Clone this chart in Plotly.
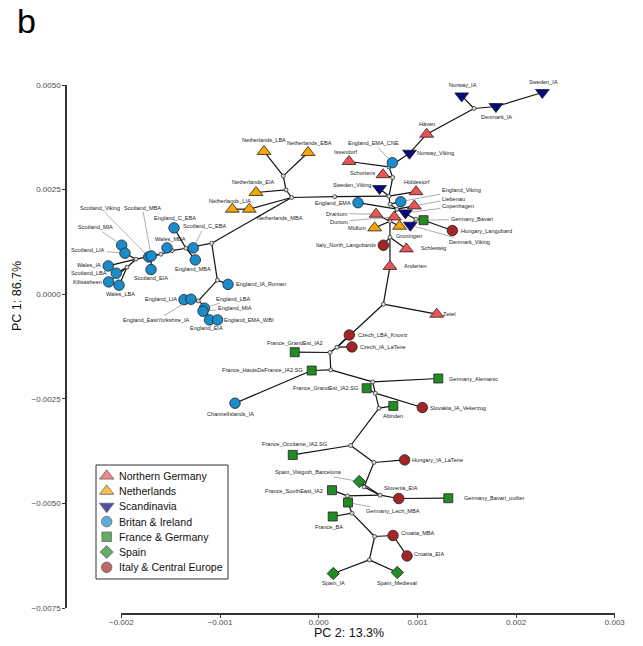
import plotly.graph_objects as go

# ---------------- data ----------------
group_names = ["Northern Germany", "Netherlands", "Scandinavia", "Britan & Ireland",
               "France & Germany", "Spain", "Italy & Central Europe"]

ng_names = ["Häven", "Issendorf", "Schortens", "Hiddestorf", "Liebenau", "Drantum", "Dunum",
            "Schleswig", "Anderten", "Zetel"]
ng_pc2 = [0.001094, 0.000307, 0.000651, 0.000986, 0.000969, 0.000581, 0.000766, 0.000888, 0.000722, 0.001196]
ng_pc1 = [0.003824, 0.003172, 0.002856, 0.002450, 0.002110, 0.001912, 0.001847, 0.001083, 0.000664, -0.000478]

nl_names = ["Netherlands_LBA", "Netherlands_EBA", "Netherlands_EIA", "Netherlands_LIA", "Netherlands_MBA",
            "Midlum", "Groningen"]
nl_pc2 = [-0.000554, -0.000108, -0.000635, -0.000875, -0.000703, 0.000567, 0.000819]
nl_pc1 = [0.003411, 0.003387, 0.002431, 0.002032, 0.002032, 0.001585, 0.001625]

sc_names = ["Norway_IA", "Sweden_IA", "Denmark_IA", "Norway_Viking", "Sweden_Viking", "Copenhagen",
            "Denmark_Viking"]
sc_pc2 = [0.001449, 0.002266, 0.001796, 0.000920, 0.000616, 0.000879, 0.000928]
sc_pc1 = [0.004739, 0.004821, 0.004486, 0.003370, 0.002526, 0.001943, 0.001649]

bi_names = ["England_EMA_CNE", "England_EMA", "England_Viking", "England_C_EBA", "Wales_MBA",
            "Scotland_C_EBA", "England_MBA", "Scotland_Viking", "Scotland_MBA", "Scotland_EIA",
            "Scotland_MIA", "Scotland_LIA", "Wales_IA", "Scotland_LBA", "Kiltsasheen", "Wales_LBA",
            "England_IA_Roman", "England_LIA", "England_EastYorkshire_IA", "England_LBA", "England_MIA",
            "England_EIA", "England_EMA_WBI", "ChannelIslands_IA"]
bi_pc2 = [0.000746, 0.000398, 0.000831, -0.001466, -0.001537, -0.001271, -0.001250, -0.001722, -0.001696,
          -0.001699, -0.001996, -0.001963, -0.002132, -0.002051, -0.002128, -0.002023, -0.000919, -0.001365,
          -0.001294, -0.001157, -0.001172, -0.001106, -0.001025, -0.000848]
bi_pc1 = [0.003143, 0.002187, 0.002211, 0.001585, 0.001107, 0.001107, 0.000820, 0.000891, 0.000915,
          0.000590, 0.001171, 0.000980, 0.000676, 0.000502, 0.000294, 0.000215, 0.000234, -0.000131,
          -0.000120, -0.000335, -0.000406, -0.000614, -0.000614, -0.002605]

fg_names = ["Germany_Bavari", "France_GrandEst_IA2", "France_HautsDeFrance_IA2.SG", "Germany_Alemanic",
            "France_GrandEst_IA2.SG", "Altinden", "France_Occitanie_IA2.SG", "France_SouthEast_IA2",
            "Germany_Lech_MBA", "Germany_Bavari_outlier", "France_BA"]
fg_pc2 = [0.001062, -0.000243, -0.000071, 0.001212, 0.000486, 0.000756, -0.000263, 0.000135, 0.000297,
          0.001313, 0.000142]
fg_pc1 = [0.001769, -0.001386, -0.001824, -0.002015, -0.002247, -0.002670, -0.003841, -0.004684, -0.004978,
          -0.004876, -0.005313]

sp_names = ["Spain_Visigoth_Barcelona", "Spain_IA", "Spain_Medieval"]
sp_pc2 = [0.000411, 0.000148, 0.000796]
sp_pc1 = [-0.004476, -0.006675, -0.006651]

ic_names = ["Italy_North_Langobards", "Hungary_Langobard", "Czech_LBA_Knoviz", "Czech_IA_LaTene",
            "Slovakia_IA_Vekerzug", "Hungary_IA_LaTene", "Slovenia_EIA", "Croatia_MBA", "Croatia_EIA"]
ic_pc2 = [0.000655, 0.001354, 0.000310, 0.000337, 0.001050, 0.000871, 0.000811, 0.000753, 0.000895]
ic_pc1 = [0.001171, 0.001522, -0.000975, -0.001260, -0.002708, -0.003960, -0.004883, -0.005767, -0.006255]

# internal tree nodes
node_names = ["T1", "T2", "T3", "C", "L1", "NL", "NL2", "NL3", "A", "B", "E1", "E2", "S1", "S2", "S3",
              "S4", "S5", "D1", "D2", "D3", "D4", "D5", "Zn", "K", "G", "F1", "F2", "F3", "F4", "O", "H",
              "V", "Sn", "Ln", "Bn", "Cr", "Sp"]
node_pc2 = [0.001574, 0.000712, 0.000750, 0.000712, 0.000162, -0.000274, -0.000331, -0.000359, -0.001084,
            -0.001027, -0.001220, -0.001152, -0.001345, -0.001486, -0.001598, -0.001851, -0.001942, 0.000722,
            0.000793, 0.000986, 0.000722, 0.000722, 0.000655, 0.000185, 0.000114, 0.000122, 0.000547,
            0.000573, 0.000611, 0.000324, 0.000560, 0.000459, 0.000621, 0.000290, 0.000337, 0.000567,
            0.000513]
node_pc1 = [0.004438, 0.003042, 0.002789, 0.002342, 0.002330, 0.002311, 0.002493, 0.002827, 0.001219,
            0.000335, -0.000160, -0.000287, 0.001099, 0.001040, 0.000956, 0.000837, 0.000645, 0.002151,
            0.002032, 0.001793, 0.001745, 0.001362, -0.000239, -0.001267, -0.001393, -0.001809, -0.002096,
            -0.002366, -0.002725, -0.003616, -0.004022, -0.004606, -0.004804, -0.004821, -0.005234,
            -0.005791, -0.006350]

edges = [
    ("Sweden_IA", "Denmark_IA"), ("Denmark_IA", "T1"), ("T1", "Norway_IA"), ("T1", "Häven"),
    ("Häven", "Norway_Viking"), ("Norway_Viking", "T2"), ("T2", "England_EMA_CNE"), ("T2", "Issendorf"),
    ("T2", "T3"), ("T3", "Schortens"), ("T3", "C"), ("C", "Hiddestorf"), ("C", "Sweden_Viking"),
    ("C", "L1"), ("L1", "NL"), ("NL", "NL2"), ("NL2", "NL3"), ("NL3", "Netherlands_LBA"),
    ("NL3", "Netherlands_EBA"), ("NL2", "Netherlands_EIA"), ("NL", "Netherlands_MBA"),
    ("Netherlands_MBA", "Netherlands_LIA"), ("NL", "A"),
    ("England_EMA", "D2"), ("C", "D1"), ("D1", "England_Viking"), ("D1", "D2"), ("D2", "Liebenau"),
    ("D2", "Copenhagen"), ("D2", "D3"), ("D3", "Germany_Bavari"), ("Germany_Bavari", "Hungary_Langobard"),
    ("D3", "Denmark_Viking"), ("D2", "D4"), ("D4", "Drantum"), ("D4", "Dunum"), ("D4", "Midlum"),
    ("D4", "Groningen"), ("D4", "D5"), ("D5", "Italy_North_Langobards"), ("D5", "Schleswig"),
    ("D5", "Anderten"), ("Anderten", "Zn"), ("Zn", "Zetel"), ("Zn", "K"), ("K", "Czech_LBA_Knoviz"),
    ("K", "Czech_IA_LaTene"), ("K", "G"), ("G", "France_GrandEst_IA2"), ("G", "F1"),
    ("F1", "France_HautsDeFrance_IA2.SG"), ("France_HautsDeFrance_IA2.SG", "ChannelIslands_IA"),
    ("F1", "F2"), ("F2", "Germany_Alemanic"), ("F2", "F3"), ("F3", "France_GrandEst_IA2.SG"),
    ("F3", "Slovakia_IA_Vekerzug"), ("F3", "F4"), ("F4", "Altinden"), ("F4", "O"),
    ("O", "France_Occitanie_IA2.SG"), ("O", "H"), ("H", "Hungary_IA_LaTene"), ("H", "V"),
    ("V", "Spain_Visigoth_Barcelona"), ("V", "Sn"), ("Spain_Visigoth_Barcelona", "Sn"),
    ("Sn", "Slovenia_EIA"), ("Slovenia_EIA", "Germany_Bavari_outlier"), ("Sn", "Ln"),
    ("Ln", "France_SouthEast_IA2"), ("Ln", "Germany_Lech_MBA"), ("Germany_Lech_MBA", "Bn"),
    ("Bn", "France_BA"), ("Bn", "Cr"), ("Cr", "Croatia_MBA"), ("Croatia_MBA", "Croatia_EIA"),
    ("Cr", "Sp"), ("Sp", "Spain_IA"), ("Sp", "Spain_Medieval"),
    ("A", "S1"), ("S1", "Scotland_C_EBA"), ("S1", "England_C_EBA"), ("S1", "England_MBA"), ("S1", "S2"),
    ("S2", "Wales_MBA"), ("S2", "S3"), ("S3", "Scotland_MBA"), ("Scotland_MBA", "Scotland_Viking"),
    ("Scotland_MBA", "Scotland_EIA"), ("S3", "S4"), ("S4", "Scotland_LIA"), ("Scotland_LIA", "Scotland_MIA"),
    ("S4", "Wales_IA"), ("S4", "S5"), ("S5", "Scotland_LBA"), ("S5", "Kiltsasheen"), ("S5", "Wales_LBA"),
    ("A", "B"), ("B", "England_IA_Roman"), ("B", "E1"), ("E1", "England_LIA"),
    ("E1", "England_EastYorkshire_IA"), ("E1", "E2"), ("E2", "England_LBA"), ("E2", "England_MIA"),
    ("E2", "England_EIA"), ("England_EIA", "England_EMA_WBI"),
]

y_ticks = [-0.0075, -0.005, -0.0025, 0.0, 0.0025, 0.005]
y_ticktext = ["\u22120.0075", "\u22120.0050", "\u22120.0025", "0.0000", "0.0025", "0.0050"]
x_ticks = [-0.002, -0.001, 0.0, 0.001, 0.002, 0.003]
x_ticktext = ["\u22120.002", "\u22120.001", "0.000", "0.001", "0.002", "0.003"]

# ---------------- styling / layout ----------------
group_data = [(ng_names, ng_pc2, ng_pc1), (nl_names, nl_pc2, nl_pc1), (sc_names, sc_pc2, sc_pc1),
              (bi_names, bi_pc2, bi_pc1), (fg_names, fg_pc2, fg_pc1), (sp_names, sp_pc2, sp_pc1),
              (ic_names, ic_pc2, ic_pc1)]
g_colors = ["#EC5454", "#F7A600", "#07077F", "#1A8BCB", "#238B23", "#238B23", "#A32626"]
g_symbols = ["triangle-up", "triangle-up", "triangle-down", "circle", "square", "diamond", "circle"]
g_sizes = [12, 12, 12, 10.5, 9, 9.5, 10.5]
leg_sizes = [12.5, 12.5, 12.5, 10.5, 9.5, 10, 10.5]

# label offsets in pixels (dx, dy, leader segment)
lab = {
    "Häven": (0, -10, 0), "Issendorf": (-4, -9.5, 0), "Schortens": (-20, -1.5, 0), "Hiddestorf": (1, -9.5, 0),
    "Liebenau": (39, -7.4, 1), "Drantum": (-39.3, -0.7, 1), "Dunum": (-55.3, 4.6, 1), "Schleswig": (27, -1, 0),
    "Anderten": (26, 0, 0), "Zetel": (12.5, -0.7, 0),
    "Netherlands_LBA": (0, -11.5, 0), "Netherlands_EBA": (1, -9.5, 0), "Netherlands_EIA": (-3, -10.5, 0),
    "Netherlands_LIA": (-2, -8.5, 0), "Netherlands_MBA": (31, 9, 0), "Midlum": (-18, 0, 0),
    "Groningen": (9, 9.5, 0),
    "Norway_IA": (1, -10.5, 0), "Sweden_IA": (1, -10, 0), "Denmark_IA": (0.7, 10.4, 0),
    "Norway_Viking": (26, 0, 0), "Sweden_Viking": (-28, -4, 0), "Copenhagen": (52.5, -6.7, 1),
    "Denmark_Viking": (59.7, 16.7, 1),
    "England_EMA_CNE": (-19, -20, 1), "England_EMA": (-25, 0, 0), "England_Viking": (60.5, -11.5, 1),
    "England_C_EBA": (1, -9.8, 0), "Wales_MBA": (3.7, -8.5, 0), "Scotland_C_EBA": (11, -21.4, 1),
    "England_MBA": (-2.6, 9, 0), "Scotland_Viking": (-48.7, -49.4, 1), "Scotland_MBA": (-9, -48.4, 1),
    "Scotland_EIA": (0, 8.5, 0), "Scotland_MIA": (-26, -18, 1), "Scotland_LIA": (-36.7, -3, 1),
    "Wales_IA": (-19, -1.4, 0), "Scotland_LBA": (-27.5, 0, 0), "Kiltsasheen": (-21, 0, 0),
    "Wales_LBA": (1, 9, 0), "England_IA_Roman": (33, 0, 0), "England_LIA": (-23, -0.5, 0),
    "England_EastYorkshire_IA": (-34.3, 21, 1), "England_LBA": (28.8, -9.7, 1), "England_MIA": (32, -2.7, 1),
    "England_EIA": (-2.8, 8.5, 0), "England_EMA_WBI": (31.5, 0, 0), "ChannelIslands_IA": (-4.3, 10.5, 0),
    "Germany_Bavari": (48, -1, 1), "France_GrandEst_IA2": (0, -9.5, 0),
    "France_HautsDeFrance_IA2.SG": (-49, -0.6, 0), "Germany_Alemanic": (35, 0, 0),
    "France_GrandEst_IA2.SG": (-41, -0.7, 0), "Altinden": (0, 9.6, 0),
    "France_Occitanie_IA2.SG": (1.6, -10.6, 0), "France_SouthEast_IA2": (-38, 0.7, 0),
    "Germany_Lech_MBA": (45.3, 9, 1), "Germany_Bavari_outlier": (46, 0, 0), "France_BA": (-4, 10.6, 0),
    "Spain_Visigoth_Barcelona": (-51.6, -9, 1), "Spain_IA": (0, 10, 0), "Spain_Medieval": (0, 10.7, 0),
    "Italy_North_Langobards": (-37.5, -0.3, 0), "Hungary_Langobard": (34.5, 0, 0),
    "Czech_LBA_Knoviz": (33.2, 0, 0), "Czech_IA_LaTene": (31.5, 0, 0), "Slovakia_IA_Vekerzug": (35.8, 0, 0),
    "Hungary_IA_LaTene": (33.3, 0.6, 0), "Slovenia_EIA": (2, -10.3, 0), "Croatia_MBA": (24.5, -2.3, 0),
    "Croatia_EIA": (21.7, -1.7, 0),
}

FONT = "Liberation Sans, Arial, Helvetica, sans-serif"
W, H = 643, 646
ML, MR, MT, MB = 66, 13, 85, 32
PW, PH = W - ML - MR, H - MT - MB


def paper_x(px):
    return (px - ML) / PW


def paper_y(py):
    return (H - MB - py) / PH


pos = {}
for names, xs, ys in group_data:
    for n, x, y in zip(names, xs, ys):
        pos[n] = (x, y)
for n, x, y in zip(node_names, node_pc2, node_pc1):
    pos[n] = (x, y)

fig = go.Figure()

ex, ey = [], []
for a, b in edges:
    ex += [pos[a][0], pos[b][0], None]
    ey += [pos[a][1], pos[b][1], None]
fig.add_trace(go.Scatter(x=ex, y=ey, mode="lines", line=dict(color="#111111", width=1.2),
                         hoverinfo="skip", showlegend=False))
fig.add_trace(go.Scatter(x=node_pc2, y=node_pc1, mode="markers", cliponaxis=False,
                         marker=dict(size=4, color="#d9d9d9", line=dict(color="#333333", width=0.8)),
                         hoverinfo="skip", showlegend=False))

for gi, (names, xs, ys) in enumerate(group_data):
    fig.add_trace(go.Scatter(x=xs, y=ys, mode="markers", name=group_names[gi], text=names,
                             cliponaxis=False, showlegend=False,
                             marker=dict(symbol=g_symbols[gi], size=g_sizes[gi], color=g_colors[gi],
                                         line=dict(color="#222222", width=0.8))))

annotations = []
for names, xs, ys in group_data:
    for n, x, y in zip(names, xs, ys):
        dx, dy, lead = lab[n]
        annotations.append(dict(
            x=x, y=y, xref="x", yref="y", text=n, showarrow=True, ax=dx, ay=dy,
            arrowhead=0, arrowwidth=0.6, standoff=5 if lead else 0,
            arrowcolor="#777777" if lead else "rgba(0,0,0,0)",
            font=dict(family=FONT, size=5.6, color="#222222")))

# custom legend (separate hidden subplot)
leg_idx = list(range(len(group_names)))
fig.add_trace(go.Scatter(
    x=[0.081] * len(group_names), y=leg_idx, xaxis="x2", yaxis="y2", mode="markers",
    cliponaxis=False, showlegend=False, hoverinfo="skip",
    marker=dict(symbol=g_symbols, size=leg_sizes, color=g_colors, line=dict(color="#222222", width=0.8))))
for i, g in enumerate(group_names):
    annotations.append(dict(x=0.162, y=i, xref="x2", yref="y2", text=g, showarrow=False,
                            xanchor="left", yanchor="middle",
                            font=dict(family=FONT, size=10.6, color="#111111")))

# capped x axis: its own (tick-bearing) axis spanning only the tick range
fig.add_trace(go.Scatter(x=[x_ticks[0], x_ticks[-1]], y=[0, 0], xaxis="x3", yaxis="y3", mode="markers",
                         marker=dict(opacity=0), hoverinfo="skip", showlegend=False))

# titles
annotations.append(dict(x=paper_x(349), y=paper_y(633), xref="paper", yref="paper", text="PC 2: 13.3%",
                        showarrow=False, xanchor="center", yanchor="middle",
                        font=dict(family=FONT, size=12.5, color="#111111")))
annotations.append(dict(x=paper_x(17), y=paper_y(296), xref="paper", yref="paper", text="PC 1: 86.7%",
                        showarrow=False, textangle=-90, xanchor="center", yanchor="middle",
                        font=dict(family=FONT, size=12.5, color="#111111")))
annotations.append(dict(x=paper_x(26), y=paper_y(21), xref="paper", yref="paper", text="b",
                        showarrow=False, xanchor="center", yanchor="middle",
                        font=dict(family=FONT, size=34, color="#000000")))

X0_PX, X1_PX = 121.3, 614.8   # pixel positions of the first / last x tick
x_lo = x_ticks[0] - (X0_PX - ML) / 98700.0
x_hi = x_ticks[-1] + (ML + PW - X1_PX) / 98700.0

shapes = [
    dict(type="rect", xref="x2 domain", yref="y2 domain", x0=0, x1=1, y0=0, y1=1,
         line=dict(color="#333333", width=1), fillcolor="white", layer="below"),
]

ydom = [paper_y(608), 1]
fig.update_layout(
    width=W, height=H, margin=dict(l=ML, r=MR, t=MT, b=MB, autoexpand=False),
    paper_bgcolor="white", plot_bgcolor="rgba(0,0,0,0)",
    font=dict(family=FONT),
    showlegend=False,
    annotations=annotations, shapes=shapes,
    xaxis=dict(range=[x_lo, x_hi], domain=[0, 1], anchor="y", visible=False, automargin=False,
               showgrid=False, zeroline=False),
    yaxis=dict(range=[y_ticks[0], y_ticks[-1]], domain=ydom, anchor="free", position=0,
               automargin=False,
               showgrid=False, zeroline=False, showline=True, linecolor="#333333", linewidth=1.5,
               tickmode="array", tickvals=y_ticks, ticktext=y_ticktext,
               ticks="outside", ticklen=3, tickwidth=1, tickcolor="#333333",
               tickfont=dict(family=FONT, size=8, color="#4D4D4D")),
    xaxis3=dict(range=[x_ticks[0], x_ticks[-1]], domain=[paper_x(X0_PX), paper_x(X1_PX)],
                anchor="free", position=0, automargin=False,
                showgrid=False, zeroline=False, showline=True, linecolor="#333333", linewidth=1.8,
                tickmode="array", tickvals=x_ticks, ticktext=x_ticktext,
                ticks="outside", ticklen=3, tickwidth=1, tickcolor="#333333", ticklabelstandoff=-3,
                tickfont=dict(family=FONT, size=8, color="#4D4D4D")),
    yaxis3=dict(domain=ydom, range=[-1, 1], anchor="x3", visible=False, automargin=False),
    xaxis2=dict(domain=[paper_x(96), paper_x(228)], range=[0, 1], anchor="y2", visible=False,
                automargin=False),
    yaxis2=dict(domain=[paper_y(579), paper_y(465)], range=[6.77, -0.72], anchor="x2", visible=False,
                automargin=False),
)

# remove the browser's default 8px page margin so the figure sits at the window origin
fig.write_html("out.html", config={"displayModeBar": False},
               post_script="document.body.style.margin='0px';")
